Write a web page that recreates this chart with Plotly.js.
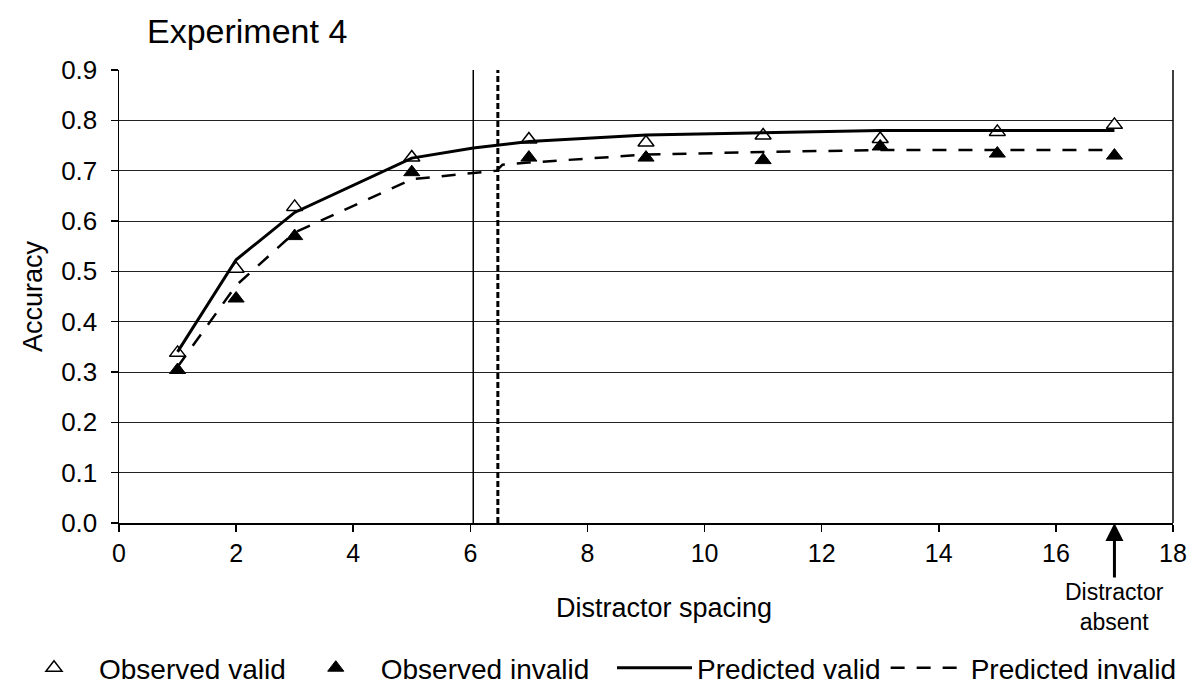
<!DOCTYPE html>
<html>
<head>
<meta charset="utf-8">
<script src="https://cdn.plot.ly/plotly-3.0.1.min.js"></script>
<style>html,body{margin:0;padding:0;background:#fff;} #chart{width:1194px;height:689px;}</style>
</head>
<body>
<div id="chart"></div>
<script>
// Observed data
const spacing = [1, 2, 3, 5, 7, 9, 11, 13, 15, 17];
const observedValid = [0.338, 0.505, 0.628, 0.726, 0.762, 0.756, 0.770, 0.763, 0.777, 0.791];
const observedInvalid = [0.304, 0.446, 0.570, 0.697, 0.726, 0.726, 0.721, 0.748, 0.734, 0.730];

// Model predictions
const predValidX = [1, 2, 3, 5, 6.05, 7, 9, 11, 13, 15, 17];
const predValid = [0.340, 0.523, 0.617, 0.725, 0.745, 0.758, 0.771, 0.776, 0.780, 0.780, 0.780];
const predInvalidX = [1, 2, 3, 5, 6.45, 6.55, 7, 9, 11, 13, 15, 17];
const predInvalid = [0.310, 0.472, 0.577, 0.683, 0.700, 0.712, 0.716, 0.732, 0.737, 0.741, 0.741, 0.741];

// Critical spacing markers (solid, dashed)
const criticalSpacing = [6.05, 6.47];

const xTicks = [0, 2, 4, 6, 8, 10, 12, 14, 16, 18];
const yTicks = [0, 0.1, 0.2, 0.3, 0.4, 0.5, 0.6, 0.7, 0.8, 0.9];
const yTickText = ['0.0', '0.1', '0.2', '0.3', '0.4', '0.5', '0.6', '0.7', '0.8', '0.9'];

const FONT = 'Liberation Sans, Arial, sans-serif';

const traces = [
  {
    x: spacing, y: observedValid, name: 'Observed valid', type: 'scatter', mode: 'markers',
    marker: {symbol: 'triangle-up', size: 14, color: '#ffffff', line: {color: '#000', width: 1.5}},
    cliponaxis: false, legend: 'legend'
  },
  {
    x: spacing, y: observedInvalid, name: 'Observed invalid', type: 'scatter', mode: 'markers',
    marker: {symbol: 'triangle-up', size: 14, color: '#000', line: {color: '#000', width: 1}},
    legend: 'legend'
  },
  {
    x: predValidX, y: predValid, name: 'Predicted valid', type: 'scatter', mode: 'lines',
    line: {color: '#000', width: 3}, legend: 'legend2'
  },
  {
    x: predInvalidX, y: predInvalid, name: 'Predicted invalid', type: 'scatter', mode: 'lines',
    line: {color: '#000', width: 2.5, dash: '14px,12px'}, legend: 'legend2'
  }
];

const legendCommon = {
  orientation: 'h', xref: 'container', yref: 'container', xanchor: 'left',
  y: 1 - 668/689, yanchor: 'middle', font: {family: FONT, size: 28, color: '#000'},
  tracegroupgap: 0, bgcolor: 'rgba(0,0,0,0)', borderwidth: 0
};

const layout = {
  width: 1194, height: 689,
  paper_bgcolor: '#fff', plot_bgcolor: '#fff',
  margin: {l: 119, r: 21, t: 70, b: 166},
  font: {family: FONT, color: '#000', size: 25},
  title: {
    text: 'Experiment 4', font: {family: FONT, size: 34, color: '#000'},
    xref: 'container', yref: 'container', x: 147/1194, xanchor: 'left', y: 1 - 31/689, yanchor: 'middle'
  },
  xaxis: {
    range: [0, 18], tickvals: xTicks, ticktext: xTicks.map(String),
    showgrid: false, zeroline: false, showline: true, linecolor: '#000', linewidth: 1.5,
    ticks: 'outside', ticklen: 7, tickwidth: 1.5, tickcolor: '#000',
    tickfont: {family: FONT, size: 25}
  },
  yaxis: {
    range: [0, 0.9], tickvals: yTicks, ticktext: yTickText,
    showgrid: true, gridcolor: '#222', gridwidth: 1,
    zeroline: false, showline: true, linecolor: '#000', linewidth: 1.5,
    ticks: 'outside', ticklen: 7, tickwidth: 1.5, tickcolor: '#000',
    ticklabelstandoff: 8,
    tickfont: {family: FONT, size: 26},
    title: {text: 'Accuracy', font: {family: FONT, size: 27}, standoff: 10}
  },
  shapes: [
    {type: 'line', xref: 'x', yref: 'paper', x0: criticalSpacing[0], x1: criticalSpacing[0], y0: 0, y1: 1,
     line: {color: '#000', width: 1.5}},
    {type: 'line', xref: 'x', yref: 'paper', x0: criticalSpacing[1], x1: criticalSpacing[1], y0: 0, y1: 1,
     line: {color: '#000', width: 3, dash: '6px,3px'}},
    {type: 'line', xref: 'paper', yref: 'paper', x0: 1, x1: 1, y0: 0, y1: 1,
     line: {color: '#000', width: 1.5}}
  ],
  annotations: [
    {x: (664 - 119) / 1054, y: (523 - 608) / 453, xref: 'paper', yref: 'paper', text: 'Distractor spacing',
     showarrow: false, xanchor: 'center', yanchor: 'middle',
     font: {family: FONT, size: 27, color: '#000'}},
    {x: 17, y: 0, xref: 'x', yref: 'y', text: 'Distractor<br>absent', showarrow: true,
     arrowhead: 2, arrowsize: 1.2, arrowwidth: 3, arrowcolor: '#000', ax: 0, ay: 84,
     font: {family: 'Liberation Sans Narrow, Liberation Sans, sans-serif', size: 23, color: '#000'}}
  ],
  showlegend: true,
  legend: Object.assign({}, legendCommon, {x: 9/1194, itemwidth: 80}),
  legend2: Object.assign({}, legendCommon, {x: 612/1194, itemwidth: 75})
};

Plotly.newPlot('chart', traces, layout, {displayModeBar: false, staticPlot: true});
</script>
</body>
</html>
